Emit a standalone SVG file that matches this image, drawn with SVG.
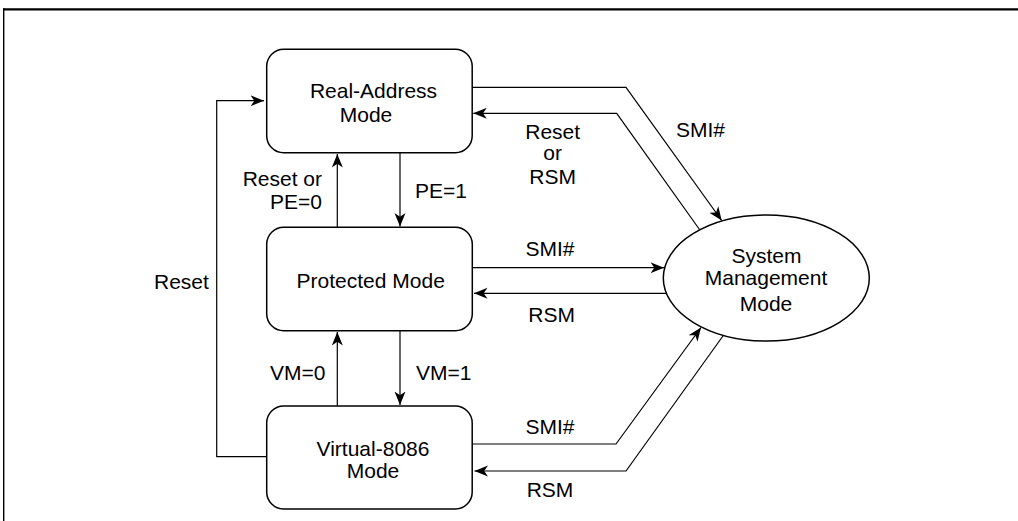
<svg xmlns="http://www.w3.org/2000/svg" width="1018" height="521" viewBox="0 0 1018 521">
<defs>
<style>
.box{fill:#fff;stroke:#000;stroke-width:1.5}
.t{font-family:"Liberation Sans",Arial,Helvetica,sans-serif;font-size:21px;fill:#000}
.c{text-anchor:middle}
.e{text-anchor:end}
.ln{fill:none;stroke:#000;stroke-width:1.2;stroke-linejoin:miter}
</style>
<marker id="ah" markerUnits="userSpaceOnUse" markerWidth="14" markerHeight="12" viewBox="0 0 14 12" refX="13.5" refY="6" orient="auto">
<path d="M0,0.5 L13.5,6 L0,11.5 L3.8,6 Z" fill="#000"/>
</marker>
</defs>
<rect x="0" y="0" width="1018" height="521" fill="#fff"/>
<g id="frame">
<line x1="3" y1="9.3" x2="1018" y2="9.3" stroke="#000" stroke-width="2.2"/>
<line x1="3.7" y1="8.2" x2="3.7" y2="521" stroke="#000" stroke-width="1.4"/>
</g>
<g id="connectors">
<polyline class="ln" points="266.7,456.7 216.7,456.7 216.7,100.7 264,100.7" marker-end="url(#ah)"/>
<line class="ln" x1="337.3" y1="227.3" x2="337.3" y2="154" marker-end="url(#ah)"/>
<line class="ln" x1="400" y1="153" x2="400" y2="226.5" marker-end="url(#ah)"/>
<line class="ln" x1="337.3" y1="406" x2="337.3" y2="332" marker-end="url(#ah)"/>
<line class="ln" x1="400" y1="331" x2="400" y2="405" marker-end="url(#ah)"/>
<polyline class="ln" points="472,87.3 626,87.3 721.7,220.5" marker-end="url(#ah)"/>
<polyline class="ln" points="699.5,229.5 616.7,113.3 473.3,113.3" marker-end="url(#ah)"/>
<line class="ln" x1="472.3" y1="267.7" x2="664" y2="267.7" marker-end="url(#ah)"/>
<line class="ln" x1="666.5" y1="293.3" x2="474" y2="293.3" marker-end="url(#ah)"/>
<polyline class="ln" points="472,444 616,444 701,327.5" marker-end="url(#ah)"/>
<polyline class="ln" points="723.3,335.5 626,471 474.5,471" marker-end="url(#ah)"/>
</g>
<g id="labels">
<text class="t" x="154" y="289">Reset</text>
<text class="t e" x="322" y="185.7">Reset or</text>
<text class="t e" x="322" y="209">PE=0</text>
<text class="t" x="415" y="198">PE=1</text>
<text class="t" x="270" y="380">VM=0</text>
<text class="t" x="416" y="380">VM=1</text>
<text class="t c" x="552.7" y="139">Reset</text>
<text class="t c" x="552.7" y="160">or</text>
<text class="t c" x="552.7" y="184">RSM</text>
<text class="t" x="676" y="137">SMI#</text>
<text class="t c" x="550" y="256">SMI#</text>
<text class="t c" x="551.7" y="321.7">RSM</text>
<text class="t c" x="550" y="434.3">SMI#</text>
<text class="t c" x="550" y="497.3">RSM</text>
</g>
<g id="real-address">
<rect class="box" x="266.7" y="49.3" width="205.5" height="103.4" rx="17" ry="17"/>
<text class="t c" x="373.5" y="97.7">Real-Address</text>
<text class="t c" x="366" y="121.7">Mode</text>
</g>
<g id="protected">
<rect class="box" x="266.7" y="227.3" width="205.6" height="103.4" rx="17" ry="17"/>
<text class="t c" x="370.7" y="287.7">Protected Mode</text>
</g>
<g id="virtual-8086">
<rect class="box" x="266.7" y="406" width="205.5" height="103" rx="17" ry="17"/>
<text class="t c" x="373" y="455.7">Virtual-8086</text>
<text class="t c" x="373" y="478.3">Mode</text>
</g>
<g id="smm">
<ellipse class="box" cx="766.3" cy="278" rx="103" ry="63"/>
<text class="t c" x="766.5" y="262.5">System</text>
<text class="t c" x="766" y="284.5">Management</text>
<text class="t c" x="766" y="310.5">Mode</text>
</g>
</svg>
